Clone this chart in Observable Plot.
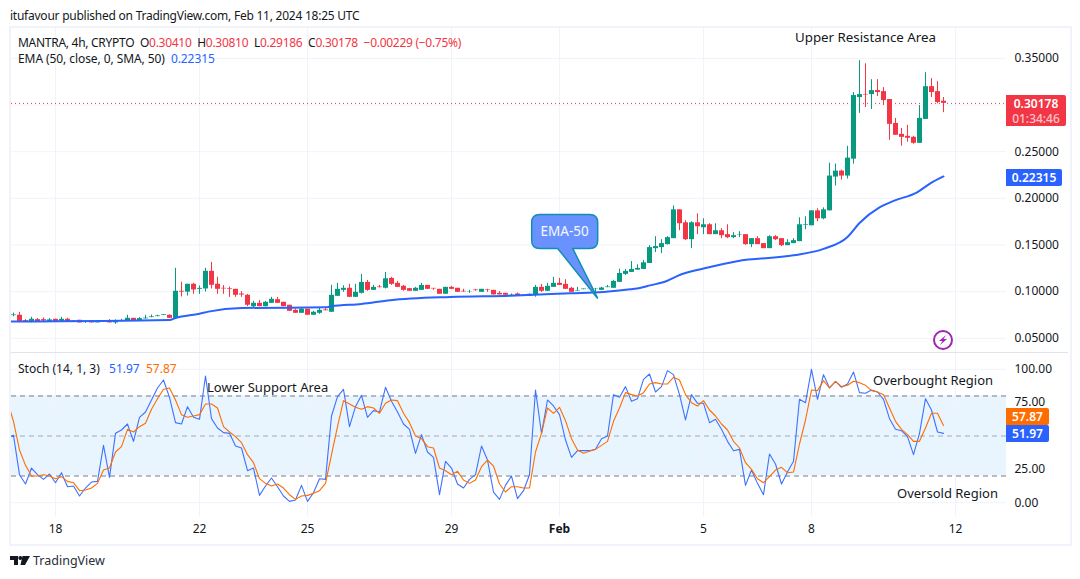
<!DOCTYPE html>
<html>
<head>
<meta charset="utf-8">
<script src="https://cdn.jsdelivr.net/npm/d3@7"></script>
<script src="https://cdn.jsdelivr.net/npm/@observablehq/plot@0.6"></script>
<style>
  body { margin: 0; background: #fff; font-family: "Noto Sans", sans-serif; font-size: 12px; color: #131722; }
  #page { position: relative; width: 1080px; height: 579px; overflow: hidden; }
  #page > * { position: absolute; white-space: pre; }
  #frame { left: 9px; top: 26px; width: 1059px; height: 516px; border: 2px solid #f0f3fa; }
  #sep { left: 11px; top: 352px; width: 1057px; height: 1px; background: #e0e3eb; }
  .red { color: #f23645; } .blue { color: #2962ff; } .orange { color: #ff6d00; }
  .badge { color: #fff; font-weight: 600; text-align: center; border-radius: 0 2px 2px 0; line-height: 17px; }
  .badge span { font-weight: 500; opacity: .7; }
</style>
</head>
<body>
<div id="page">
  <div id="frame"></div>
  <div id="sep"></div>
  <div id="price"></div>
  <div id="stoch"></div>
  <div style="left:10px;top:7px;letter-spacing:-0.24px">itufavour published on TradingView.com, Feb 11, 2024 18:25 UTC</div>
  <div style="left:18px;top:34px;letter-spacing:-0.28px">MANTRA, 4h, CRYPTO  O<span class="red">0.30410</span>  H<span class="red">0.30810</span>  L<span class="red">0.29186</span>  C<span class="red">0.30178</span>  <span class="red">−0.00229 (−0.75%)</span></div>
  <div style="left:18px;top:50px;letter-spacing:-0.08px">EMA (50, close, 0, SMA, 50)  <span class="blue">0.22315</span></div>
  <div style="left:18px;top:360px">Stoch (14, 1, 3)  <span class="blue" style="margin-left:3px">51.97</span>  <span class="orange">57.87</span></div>
  <div class="badge" style="left:1006px;top:95px;width:60px;height:30px;padding-top:1px;line-height:15px;background:#f23645">0.30178<br><span>01:34:46</span></div>
  <div class="badge" style="left:1006px;top:169px;width:56px;height:17px;background:#2962ff">0.22315</div>
  <div class="badge" style="left:1006px;top:408px;width:43px;height:17px;background:#ff6d00">57.87</div>
  <div class="badge" style="left:1006px;top:425px;width:43px;height:17px;background:#2962ff">51.97</div>
  <svg style="left:933px;top:330px" width="20" height="20" viewBox="0 0 20 20">
    <circle cx="10" cy="10" r="9" fill="none" stroke="#9c27b0" stroke-width="2"/>
    <path d="M13 5 L6 11 L9.5 11 L7 15 L14 9 L10.5 9 Z" fill="#9c27b0"/>
  </svg>
  <svg style="left:10px;top:556px" width="20" height="10" viewBox="0 0 20 10">
    <path d="M0 0H8V9H4V4H0Z M12.5 0H20L15 9H10.5Z" fill="#131722"/>
    <circle cx="10.3" cy="2" r="2" fill="#131722"/>
  </svg>
  <div style="left:33px;top:552px;font-size:12.5px;color:#2a2e39">TradingView</div>
</div>
<script>
// 4h bars, one entry per candle
const openPrice = [
  0.0743,0.0747,0.0689,0.0675,0.0700,0.0700,0.0680,0.0704,0.0682,0.0704,
  0.0683,0.0693,0.0675,0.0686,0.0665,0.0680,0.0686,0.0665,0.0680,0.0686,
  0.0714,0.0686,0.0708,0.0722,0.0732,0.0744,0.0747,0.0714,0.1004,0.0995,
  0.1079,0.1025,0.1029,0.1218,0.1079,0.1036,0.1032,0.1025,0.0975,0.0961,
  0.0839,0.0875,0.0839,0.0875,0.0914,0.0886,0.0854,0.0800,0.0768,0.0811,
  0.0747,0.0768,0.0804,0.0779,0.0950,0.1014,0.1036,0.0939,0.0982,0.1099,
  0.1014,0.1050,0.1036,0.1142,0.1089,0.1057,0.1032,0.1004,0.1014,0.1067,
  0.1035,0.1025,0.0972,0.1046,0.1036,0.1004,0.0997,0.1018,0.0993,0.1020,
  0.1014,0.0982,0.0982,0.0963,0.0975,0.0958,0.0950,0.0961,0.1046,0.1004,
  0.1046,0.1089,0.1078,0.1036,0.1006,0.1021,0.1025,0.1028,0.1014,0.1043,
  0.1036,0.1100,0.1185,0.1206,0.1231,0.1238,0.1302,0.1461,0.1472,0.1504,
  0.1568,0.1877,0.1738,0.1557,0.1738,0.1685,0.1717,0.1611,0.1653,0.1611,
  0.1579,0.1608,0.1611,0.1504,0.1568,0.1515,0.1461,0.1589,0.1568,0.1493,
  0.1515,0.1536,0.1713,0.1706,0.1866,0.1781,0.1866,0.2228,0.2292,0.2239,
  0.2420,0.3080,0.3114,0.3112,0.3155,0.3144,0.3059,0.2803,0.2686,0.2665,
  0.2654,0.2590,0.2846,0.3197,0.3144,0.30410
];
const highPrice = [
  0.0770,0.0778,0.0700,0.0725,0.0711,0.0718,0.0711,0.0704,0.0725,0.0715,
  0.0690,0.0693,0.0686,0.0686,0.0690,0.0686,0.0700,0.0697,0.0704,0.0747,
  0.0714,0.0722,0.0747,0.0750,0.0747,0.0752,0.0750,0.1250,0.1100,0.1079,
  0.1090,0.1061,0.1250,0.1314,0.1154,0.1064,0.1050,0.1025,0.1000,0.0971,
  0.0896,0.0904,0.0896,0.0939,0.0939,0.0886,0.0854,0.0811,0.0825,0.0811,
  0.0789,0.0825,0.0818,0.1068,0.1089,0.1064,0.1079,0.1079,0.1185,0.1120,
  0.1067,0.1067,0.1206,0.1153,0.1110,0.1067,0.1035,0.1046,0.1089,0.1067,
  0.1036,0.1025,0.1046,0.1057,0.1036,0.1025,0.1014,0.1025,0.1025,0.1025,
  0.1014,0.1000,0.0982,0.0975,0.0985,0.0965,0.0975,0.1067,0.1078,0.1089,
  0.1153,0.1142,0.1128,0.1046,0.1046,0.1028,0.1040,0.1035,0.1046,0.1067,
  0.1121,0.1241,0.1238,0.1323,0.1288,0.1334,0.1493,0.1589,0.1557,0.1589,
  0.1919,0.1877,0.1760,0.1749,0.1834,0.1781,0.1728,0.1728,0.1675,0.1717,
  0.1632,0.1643,0.1611,0.1568,0.1589,0.1515,0.1600,0.1600,0.1568,0.1557,
  0.1568,0.1792,0.1802,0.1866,0.1888,0.1898,0.2377,0.2367,0.2303,0.2558,
  0.3134,0.3474,0.3442,0.3272,0.3272,0.3187,0.3059,0.2857,0.2750,0.2782,
  0.2665,0.2995,0.3347,0.3283,0.3251,0.30810
];
const lowPrice = [
  0.0730,0.0675,0.0675,0.0665,0.0672,0.0672,0.0672,0.0672,0.0672,0.0672,
  0.0680,0.0665,0.0660,0.0665,0.0665,0.0678,0.0665,0.0650,0.0678,0.0680,
  0.0686,0.0686,0.0705,0.0720,0.0732,0.0744,0.0714,0.0714,0.0943,0.0953,
  0.0971,0.0971,0.0996,0.1029,0.0971,0.0971,0.0939,0.0939,0.0939,0.0839,
  0.0829,0.0839,0.0836,0.0875,0.0875,0.0839,0.0789,0.0768,0.0768,0.0747,
  0.0747,0.0757,0.0795,0.0779,0.0950,0.0993,0.0939,0.0939,0.0975,0.1004,
  0.1014,0.1040,0.1029,0.1067,0.1046,0.1004,0.1004,0.1004,0.1014,0.1025,
  0.1014,0.0972,0.0972,0.1025,0.0993,0.0993,0.0982,0.1004,0.0993,0.0993,
  0.0965,0.0965,0.0961,0.0958,0.0954,0.0958,0.0950,0.0940,0.0993,0.1000,
  0.1046,0.1067,0.1025,0.0993,0.1004,0.1021,0.1025,0.0993,0.1014,0.1043,
  0.1036,0.1100,0.1174,0.1206,0.1231,0.1238,0.1302,0.1419,0.1408,0.1500,
  0.1568,0.1653,0.1547,0.1461,0.1611,0.1611,0.1611,0.1611,0.1568,0.1568,
  0.1568,0.1579,0.1497,0.1472,0.1504,0.1461,0.1461,0.1547,0.1483,0.1493,
  0.1515,0.1536,0.1664,0.1706,0.1749,0.1770,0.1866,0.2132,0.2196,0.2207,
  0.2367,0.2910,0.2974,0.2952,0.3091,0.2995,0.2622,0.2676,0.2558,0.2601,
  0.2580,0.2590,0.2846,0.3080,0.3013,0.29186
];
const closePrice = [
  0.0750,0.0675,0.0675,0.0704,0.0679,0.0685,0.0697,0.0679,0.0704,0.0675,
  0.0688,0.0665,0.0682,0.0665,0.0686,0.0686,0.0665,0.0686,0.0688,0.0714,
  0.0686,0.0711,0.0716,0.0730,0.0740,0.0752,0.0714,0.1004,0.0995,0.1079,
  0.1018,0.1035,0.1218,0.1068,0.1025,0.1029,0.1025,0.0961,0.0964,0.0854,
  0.0875,0.0839,0.0886,0.0918,0.0875,0.0839,0.0789,0.0768,0.0811,0.0747,
  0.0779,0.0800,0.0795,0.0961,0.1025,0.1036,0.0939,0.0993,0.1099,0.1014,
  0.1046,0.1043,0.1138,0.1078,0.1046,0.1014,0.1004,0.1036,0.1067,0.1025,
  0.1029,0.0972,0.1046,0.1025,0.0993,0.0997,0.1000,0.1011,0.1025,0.1014,
  0.0965,0.0965,0.0961,0.0967,0.0954,0.0963,0.0972,0.1046,0.1004,0.1057,
  0.1089,0.1067,0.1025,0.0993,0.1011,0.1028,0.1028,0.1032,0.1039,0.1050,
  0.1110,0.1195,0.1217,0.1238,0.1249,0.1309,0.1472,0.1483,0.1515,0.1579,
  0.1877,0.1728,0.1557,0.1738,0.1696,0.1717,0.1611,0.1653,0.1600,0.1579,
  0.1600,0.1613,0.1504,0.1568,0.1504,0.1461,0.1589,0.1557,0.1493,0.1525,
  0.1547,0.1717,0.1720,0.1866,0.1781,0.1877,0.2239,0.2292,0.2239,0.2431,
  0.3102,0.3112,0.3108,0.3155,0.3134,0.3048,0.2793,0.2676,0.2654,0.2644,
  0.2590,0.2857,0.3197,0.3134,0.3027,0.30178
];

// EMA read at its bends
const emaIndex = [-1,26,27,31,32.5,38,52,53,58,62.8,72.8,82.8,92.8,98.3,102.8,104.4,106.1,108.9,110.6,115,120.6,130,135,139,141,144.4,146.7,150.6,152.8,155];
const emaValue = [0.0679,0.0696,0.0718,0.0764,0.0786,0.0825,0.0832,0.0843,0.0868,0.0908,0.0943,0.0957,0.0982,0.0996,0.1025,0.1039,0.1067,0.1114,0.1167,0.1248,0.1327,0.1390,0.1458,0.1586,0.1735,0.1905,0.1973,0.2065,0.2161,0.2235];

// stochastic, first entry is the bar just off the left edge (index -1)
const stochK = [48.5,
  50.5,21,14,26,21,17.5,21.5,15,22.5,12,
  12.5,5,11,15.5,16,43,19,52,54.5,59,
  46,64,68,77,86,92,79,60,59,72,
  64,62.5,95,63,56,52.5,52,42.5,41,24,
  26,5.5,12.5,18.5,12,5,1,2,13,1,
  7.5,18,17.5,65,79.5,85,57,72,80.5,64,
  69,68,86.5,76,68,59,55,37,51,38,
  34,6,31,26,14,11,17.5,21,42.5,32,
  8,2.5,13,20,3,9,21,84.5,52,77,
  72.5,66,47,34,39,39,39,40,48,50,
  81,79,87,76,78,92.5,96.5,83,87,99,
  96,81,62,81,74.5,74.5,60,62.5,55,46,
  39,40,13,24.5,14.5,6,36.5,29,14,23,
  31,77.5,75,100,77.5,96,86,91,86.5,89,
  98,82.5,82,84.5,83,77.5,63,55,54,49.5,
  36,52,78,69.5,53,51.97
];
const stochD = [76,
  61,39.5,28,20,20,21,20,18,19.5,16,
  15,9,9.5,11,14.5,24.5,26,38,42,55,
  53,57,59.5,70,78,85,86,77,66,64,
  65,66,74,74,71,57,53,49.5,45,36,
  30,18,14.5,12.5,14,11,6,2.5,5,5.5,
  7,9,14.5,36,57,76.5,74,71.5,70,72,
  71,67,74.5,77,76.5,67,60,50,48,42,
  41,26,24,21,23.5,17,14.5,17,27,32,
  27.5,14,8,12,12,11,11,38,52,71,
  67,71.5,61.5,48,39.5,37,38.5,40,43,46,
  61,71,82.5,81,80,82.5,89,90,89,89,
  94,92,81,75,72.5,76.5,69.5,65,59,54.5,
  46,41,30,25,18,15,19.5,24.5,26.5,22.5,
  23,44,62,84.5,84,91.5,86,91,87,88,
  91,90,88,84,83,81,71,61,55,51,
  46,46,56,67,67,57.87
];

const dayTicks = [7,31,49,73,115,133,157];
const dayLabels = ["18","22","25","29","5","8","12"];
const febTick = [91];
const priceTicks = [0.05,0.10,0.15,0.20,0.25,0.35];
const priceGrid = [0.05,0.10,0.15,0.20,0.25,0.30,0.35];
const lastClose = 0.30178;
const stochTicks = [0,25,75,100];
const stochGrid = [0,25,75,100];

const priceNotes = [{i: 130.25, v: 0.3717, t: "Upper Resistance Area"}];
const stochNotes = [
  {i: 32.25, v: 86, t: "Lower Support Area"},
  {i: 143.25, v: 91.3, t: "Overbought Region"},
  {i: 147.25, v: 6.5, t: "Oversold Region"}
];

const green = "#089981", red = "#f23645", gridColor = "#f0f3fa";
const xDomain = [-0.333, 165.5];
const allTicks = [...dayTicks, ...febTick];
const bars = d3.range(openPrice.length);
const barColor = (i) => (closePrice[i] >= openPrice[i] ? green : red);

// pointer bubble anchored on the EMA
function emaCallout(index, scales) {
  const tx = scales.x(97.45), ty = scales.y(0.0922);
  const g = d3.create("svg:g");
  const l = tx - 66, r = tx, t = ty - 84, b = ty - 50, c = 8;
  g.append("path")
    .attr("d", `M${l + c},${t}H${r - c}Q${r},${t} ${r},${t + c}V${b - c}Q${r},${b} ${r - c},${b}H${tx - 25}L${tx},${ty}L${tx - 40},${b}H${l + c}Q${l},${b} ${l},${b - c}V${t + c}Q${l},${t} ${l + c},${t}Z`)
    .attr("fill", "#6a92ff")
    .attr("stroke", "#0f8fb3")
    .attr("stroke-width", 1.5);
  g.append("text")
    .attr("x", tx - 33).attr("y", ty - 67)
    .attr("text-anchor", "middle").attr("dy", "0.35em")
    .attr("fill", "#f5f8ff").attr("font-size", 13.5)
    .text("EMA-50");
  return g.node();
}

const priceChart = Plot.plot({
  width: 1080,
  height: 324,
  marginLeft: 11,
  marginRight: 74,
  marginTop: 0,
  marginBottom: 0,
  style: {fontFamily: "'Noto Sans', sans-serif", fontSize: "12px", color: "#131722", background: "transparent", overflow: "visible"},
  x: {domain: xDomain, axis: null},
  y: {domain: [0.05, 0.35], range: [309.8, 29.9]},
  marks: [
    Plot.ruleX(allTicks, {stroke: gridColor}),
    Plot.ruleY(priceGrid, {stroke: gridColor}),
    Plot.ruleY([lastClose], {stroke: red, strokeDasharray: "1 3"}),
    Plot.ruleX(bars, {x: (i) => i, y1: (i) => lowPrice[i], y2: (i) => highPrice[i], stroke: barColor, strokeWidth: 1}),
    Plot.ruleX(bars, {x: (i) => i, y1: (i) => openPrice[i], y2: (i) => closePrice[i], stroke: barColor, strokeWidth: 5}),
    Plot.line(emaIndex, {x: (d) => d, y: (d, i) => emaValue[i], stroke: "#2962ff", strokeWidth: 2, curve: "monotone-x", clip: true}),
    Plot.axisY({ticks: priceTicks, anchor: "right", tickSize: 0, tickPadding: 8, tickFormat: ".5f", label: null}),
    Plot.text(priceNotes, {x: "i", y: "v", text: "t", textAnchor: "start", fontSize: 13.3, fill: "#131722"}),
    emaCallout
  ]
});
d3.select("#price").style("left", "0px").style("top", "28px").append(() => priceChart);

const stochChart = Plot.plot({
  width: 1080,
  height: 191,
  marginLeft: 11,
  marginRight: 74,
  marginTop: 0,
  marginBottom: 28,
  style: {fontFamily: "'Noto Sans', sans-serif", fontSize: "12px", color: "#131722", background: "transparent", overflow: "visible"},
  x: {domain: xDomain},
  y: {domain: [0, 100], range: [149.2, 15.8]},
  marks: [
    Plot.rect([0], {x1: xDomain[0], x2: xDomain[1], y1: 20, y2: 80, fill: "#2196f3", fillOpacity: 0.1}),
    Plot.ruleX(allTicks, {stroke: gridColor}),
    Plot.ruleY(stochGrid, {stroke: gridColor}),
    Plot.ruleY([80, 20], {stroke: "#787b86", strokeDasharray: "5 4"}),
    Plot.ruleY([50], {stroke: "#787b86", strokeOpacity: 0.6, strokeDasharray: "5 4"}),
    Plot.line(stochK, {x: (d, i) => i - 1, y: (d) => d, stroke: "#3d72ff", strokeWidth: 1.1, clip: true}),
    Plot.line(stochD, {x: (d, i) => i - 1, y: (d) => d, stroke: "#ff6d00", strokeWidth: 1.1, clip: true}),
    Plot.axisY({ticks: stochTicks, anchor: "right", tickSize: 0, tickPadding: 8, tickFormat: ".2f", label: null}),
    Plot.axisX({ticks: dayTicks, tickSize: 0, tickPadding: 8, tickFormat: (d) => dayLabels[dayTicks.indexOf(d)], label: null}),
    Plot.axisX({ticks: febTick, tickSize: 0, tickPadding: 8, tickFormat: () => "Feb", fontWeight: "bold", label: null}),
    Plot.text(stochNotes, {x: "i", y: "v", text: "t", textAnchor: "start", fontSize: 13, fill: "#131722"})
  ]
});
d3.select("#stoch").style("left", "0px").style("top", "353px").append(() => stochChart);
</script>
</body>
</html>
